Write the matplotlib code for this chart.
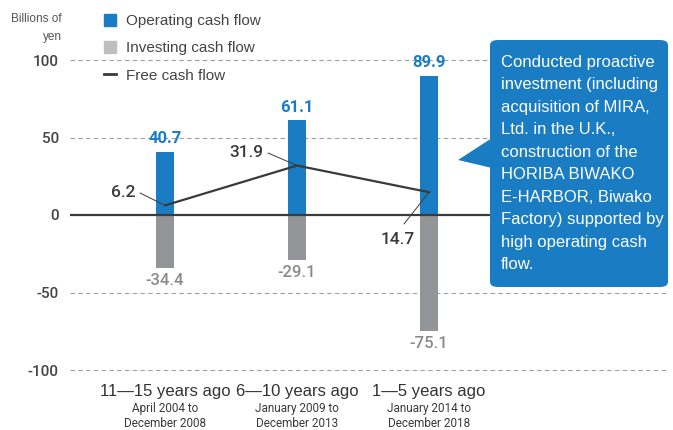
import matplotlib.pyplot as plt
import matplotlib.patches as mpatches
from matplotlib.lines import Line2D
import numpy as np

plt.rcParams['font.family'] = ['Liberation Sans', 'DejaVu Sans']

# Data
periods = ['11\u201415 years ago', '6\u201410 years ago', '1\u20145 years ago']
ranges = ['April 2004 to\nDecember 2008', 'January 2009 to\nDecember 2013',
          'January 2014 to\nDecember 2018']
operating = [40.7, 61.1, 89.9]
investing = [-34.4, -29.1, -75.1]
free_cf = [6.2, 31.9, 14.7]
yticks = [100, 50, 0, -50, -100]

blue = '#1a7dc4'
grey = '#939598'
dark = '#3a3a3a'
numfont = ['Roboto', 'DejaVu Sans']

fig = plt.figure(figsize=(6.73, 4.30), dpi=100)
W, H = 673, 430
ax = fig.add_axes([70 / W, 60 / H, 598 / W, 310 / H])
x = np.arange(len(periods))
ax.set_ylim(-100, 100)

# grid lines
for v in yticks:
    if v == 0:
        ax.axhline(0, color=dark, lw=1.6, zorder=3)
    else:
        ax.axhline(v, color='#a0a0a0', lw=0.8, ls=(0, (4, 3)), zorder=0, clip_on=False)

bw = 0.13
ax.bar(x, operating, width=bw, color=blue, zorder=2)
ax.bar(x, investing, width=bw, color=grey, zorder=2)
ax.plot(x, free_cf, color=dark, lw=1.6, zorder=4)
ax.set_xlim(-0.72, 3.81)

# value labels
for i in range(len(x)):
    ax.text(x[i], operating[i] + 3.5, f'{operating[i]:.1f}', color=blue, ha='center',
            va='bottom', fontsize=12, fontweight='bold', family=numfont)
    ax.text(x[i], investing[i] - 3, f'{investing[i]:.1f}', color='#8a8a8a', ha='center',
            va='top', fontsize=12, fontweight='medium', family=numfont)

# free cash flow labels with leader lines (offsets from the point)
label_off = [(-0.32, 8.0), (-0.38, 8.7), (-0.235, -30.2)]
leader_off = [(-0.19, 8.0), (-0.22, 8.1), (-0.19, -20.5)]
for i in range(len(x)):
    px, py = x[i], free_cf[i]
    ax.annotate('', xy=(px, py), xytext=(px + leader_off[i][0], py + leader_off[i][1]),
                arrowprops=dict(arrowstyle='-', color=dark, lw=0.7,
                                shrinkA=0, shrinkB=0), zorder=4)
    ax.text(px + label_off[i][0], py + label_off[i][1], f'{free_cf[i]:.1f}',
            ha='center', va='center', fontsize=12.5, color=dark,
            fontweight='medium', family=numfont)

ax.set_yticks(yticks)
ax.set_yticklabels([str(v) for v in yticks], fontsize=11, fontweight='medium',
                   color='#444444', family=numfont)
ax.tick_params(axis='y', length=0, pad=8)
ax.set_xticks([])
for s in ax.spines.values():
    s.set_visible(False)
ax.patch.set_alpha(0)

fig.text(62 / W, 1 - 28 / H, 'Billions of\nyen', ha='right', va='center',
         fontsize=8.5, color='#555555', linespacing=1.6)

# category labels
for i in range(len(x)):
    ax.text(x[i], -109, periods[i], ha='center', va='top', fontsize=12,
            color='#333333')
    ax.text(x[i], -120.5, ranges[i], ha='center', va='top', fontsize=8.5,
            color=dark, linespacing=1.25, family='Roboto')

# legend
handles = [mpatches.Patch(color=blue, label='Operating cash flow'),
           mpatches.Patch(color='#bcbec0', label='Investing cash flow'),
           Line2D([0], [0], color=dark, lw=2, label='Free cash flow')]
leg = fig.legend(handles=handles, loc='upper left', bbox_to_anchor=(98 / W, 1 - 8 / H),
                 frameon=False, fontsize=11, handlelength=0.8, handleheight=0.8,
                 handletextpad=0.6, labelspacing=0.85, borderaxespad=0)
for t in leg.get_texts():
    t.set_color('#444444')

# callout box
box = mpatches.FancyBboxPatch((490 / W, 1 - 287 / H), 178 / W, 247 / H,
                              boxstyle='round,pad=0,rounding_size=0.012',
                              transform=fig.transFigure, facecolor=blue,
                              edgecolor='none', zorder=5)
fig.patches.append(box)
tri = mpatches.Polygon([(492 / W, 1 - 138 / H), (458 / W, 1 - 160 / H),
                        (492 / W, 1 - 168 / H)], closed=True,
                       transform=fig.transFigure, facecolor=blue, edgecolor='none',
                       zorder=5)
fig.patches.append(tri)
fig.text(501 / W, 1 - 55 / H,
         'Conducted proactive\ninvestment (including\nacquisition of MIRA,\n'
         'Ltd. in the U.K.,\nconstruction of the\nHORIBA BIWAKO\n'
         'E-HARBOR, Biwako\nFactory) supported by\nhigh operating cash\nflow.',
         ha='left', va='top', fontsize=12, color='white', linespacing=1.62, zorder=6)

fig.savefig('out.png', dpi=100)
